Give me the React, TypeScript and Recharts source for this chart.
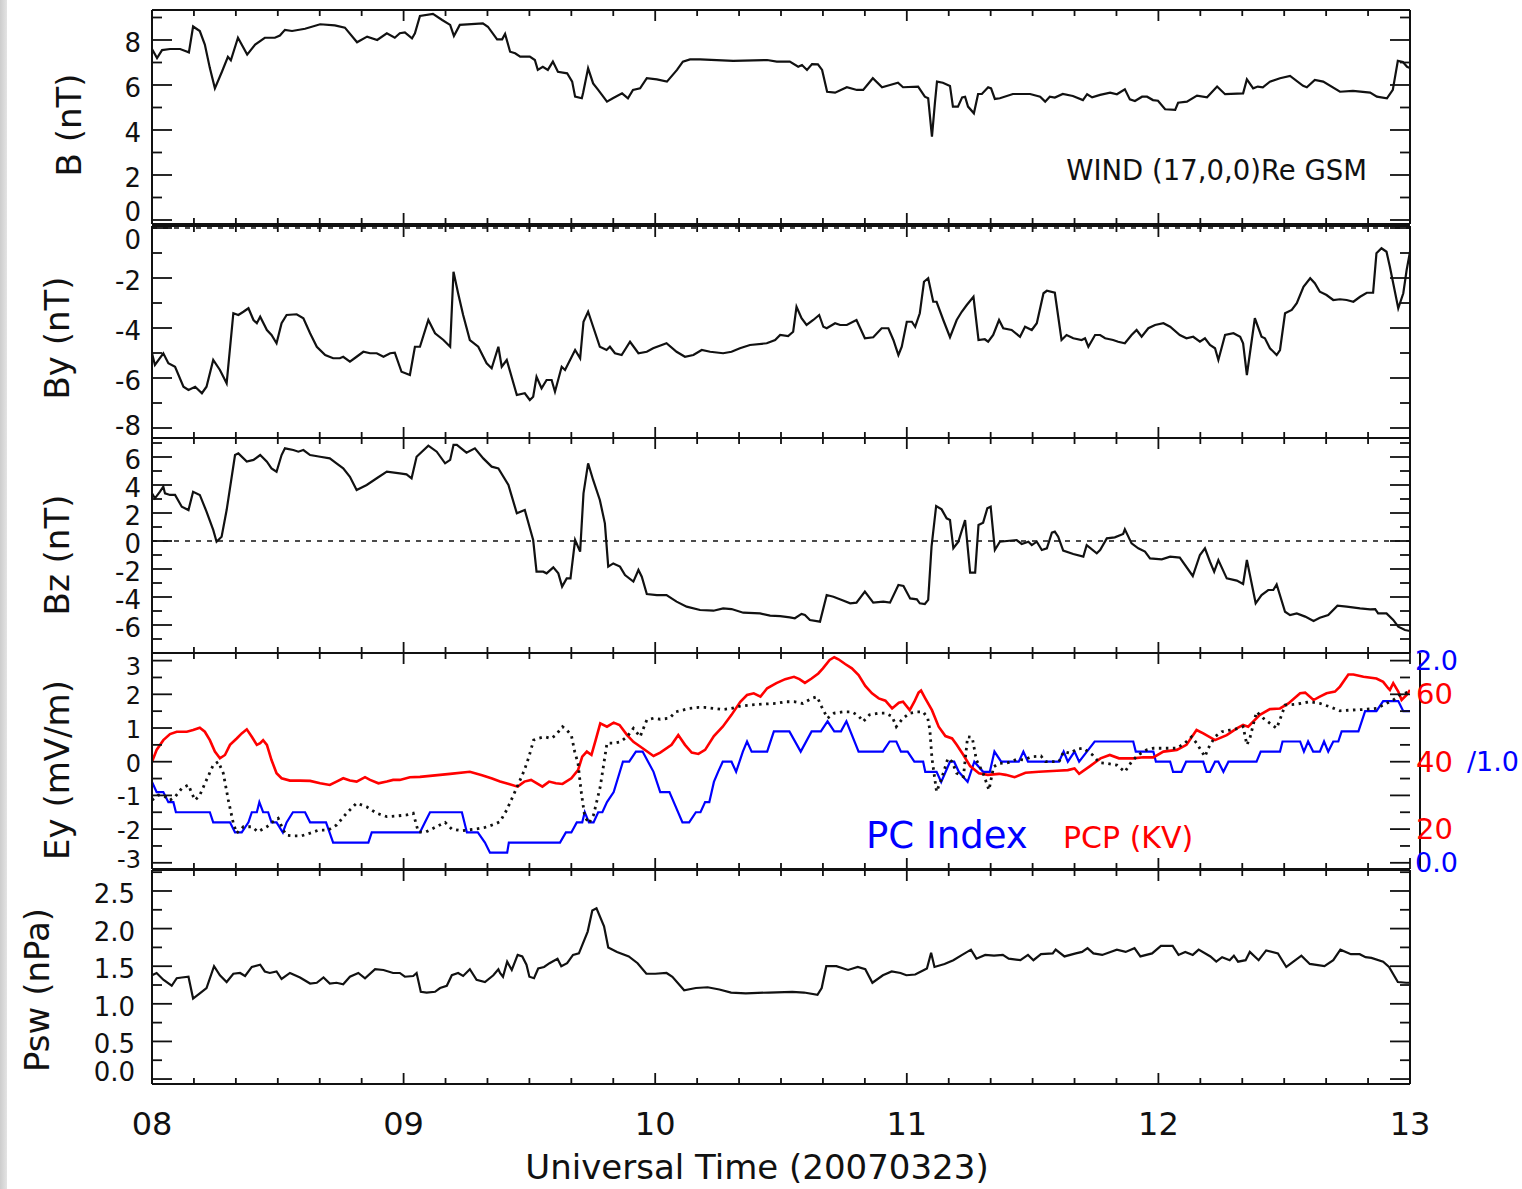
import React from 'react';
import { LineChart, Line, XAxis, YAxis, ReferenceLine } from 'recharts';

type Pt = [number, number];

// time axis: minutes after 08:00 UT
const hourLabels = ['08', '09', '10', '11', '12', '13'];
const minuteTicks = Array.from({ length: 31 }, (_, i) => i * 10);

// |B| (nT)
const bTotal: Pt[] = [
  [0, 7.6], [1.2, 7.2], [2.4, 7.55], [4.3, 7.6], [6.7, 7.6], [8.1, 7.5], [8.8, 7.45], [9.8, 8.6], [11.4, 8.4], [12.6, 7.8],
  [13.8, 6.75], [15.0, 5.85], [16.7, 6.6], [18.1, 7.25], [18.8, 7.1], [20.5, 8.1], [22.7, 7.35], [24.6, 7.8], [26.9, 8.1], [29.3, 8.1],
  [30.5, 8.2], [31.7, 8.45], [33.4, 8.4], [36.5, 8.5], [40.1, 8.7], [43.6, 8.65], [46.0, 8.55], [48.9, 7.9], [51.3, 8.15], [53.7, 8.0],
  [56.0, 8.3], [57.9, 8.1], [59.1, 8.3], [60.3, 8.34], [62.0, 8.07], [62.7, 8.3], [63.9, 9.07], [67.0, 9.16], [69.2, 8.89], [71.1, 8.67],
  [72.0, 8.18], [73.4, 8.67], [78.9, 8.74], [80.1, 8.59], [82.3, 8.03], [83.5, 8.03], [84.2, 8.27], [85.4, 7.48], [86.6, 7.41], [87.8, 7.26],
  [90.1, 7.26], [91.3, 7.11], [92.0, 6.67], [93.2, 6.81], [94.4, 6.67], [95.6, 7.04], [96.8, 6.59], [99.0, 6.52], [100.2, 6.15], [100.9, 5.48],
  [102.5, 5.41], [102.8, 5.64], [104.0, 6.74], [105.2, 6.07], [106.4, 5.78], [107.3, 5.56], [108.5, 5.26], [109.9, 5.41], [112.1, 5.63], [113.5, 5.41],
  [114.7, 5.78], [116.4, 5.85], [118.0, 6.3], [120.4, 6.25], [122.8, 6.15], [125.2, 6.67], [126.6, 7.04], [128.3, 7.14], [130.7, 7.14], [138.6, 7.07],
  [146.7, 7.11], [149.0, 7.04], [152.1, 7.04], [154.1, 6.81], [155.0, 6.89], [156.2, 6.67], [157.4, 6.93], [158.8, 6.92], [159.8, 6.67], [161.0, 5.7],
  [162.9, 5.66], [165.7, 5.9], [168.1, 5.78], [169.6, 5.78], [171.9, 6.3], [174.1, 5.9], [176.0, 6.0], [177.9, 6.1], [179.1, 5.9], [182.7, 5.93],
  [184.3, 5.48], [185.1, 5.41], [186.0, 3.7], [186.7, 5.19], [187.2, 6.15], [188.6, 6.1], [190.3, 5.96], [191.0, 5.04], [192.2, 5.04], [193.2, 5.45],
  [193.9, 5.48], [194.6, 5.04], [196.0, 4.74], [197.0, 5.6], [197.9, 5.6], [199.4, 5.9], [200.1, 5.85], [201.0, 5.38], [202.2, 5.41], [205.3, 5.6],
  [209.4, 5.6], [211.8, 5.48], [213.0, 5.26], [214.1, 5.48], [215.3, 5.44], [217.2, 5.6], [219.6, 5.51], [222.0, 5.33], [223.0, 5.59], [224.2, 5.45],
  [226.1, 5.56], [228.5, 5.66], [230.1, 5.59], [232.0, 5.81], [233.2, 5.36], [234.4, 5.29], [236.1, 5.48], [237.3, 5.48], [238.7, 5.33], [239.9, 5.3],
  [241.6, 4.92], [244.0, 4.89], [244.7, 5.21], [246.8, 5.26], [249.2, 5.53], [251.6, 5.45], [254.0, 5.93], [255.9, 5.59], [260.2, 5.63], [261.1, 6.25],
  [262.6, 5.85], [263.7, 5.93], [264.9, 5.9], [266.6, 6.15], [269.0, 6.3], [271.4, 6.4], [274.5, 5.96], [275.4, 5.9], [277.3, 6.22], [279.3, 6.15],
  [283.3, 5.7], [286.4, 5.74], [290.5, 5.66], [292.1, 5.48], [294.5, 5.41], [295.9, 5.78], [297.1, 7.07], [298.3, 7.02], [299.3, 6.81], [300, 6.75],
];

// By GSM (nT)
const byGsm: Pt[] = [
  [0, -5.01], [0.7, -5.48], [2.7, -5.01], [3.9, -5.41], [5.5, -5.55], [7.5, -6.35], [8.7, -6.48], [10.3, -6.35], [11.9, -6.61], [13.0, -6.35],
  [14.6, -5.28], [16.2, -5.68], [17.8, -6.21], [19.4, -3.41], [20.6, -3.48], [21.8, -3.35], [23.0, -3.21], [24.2, -3.68], [25.0, -3.81], [25.8, -3.55],
  [27.4, -4.08], [28.5, -4.28], [29.7, -4.61], [30.9, -3.81], [32.1, -3.48], [34.5, -3.45], [36.1, -3.61], [37.7, -4.21], [39.3, -4.75], [41.3, -5.08],
  [43.2, -5.21], [44.8, -5.21], [45.6, -5.15], [47.2, -5.35], [48.8, -5.15], [50.4, -4.95], [52.0, -5.01], [53.6, -5.01], [55.2, -5.15], [56.8, -5.01],
  [57.9, -4.99], [59.5, -5.75], [61.5, -5.88], [62.7, -4.75], [63.9, -4.75], [65.9, -3.68], [67.5, -4.21], [69.5, -4.48], [71.1, -4.75], [71.9, -1.75],
  [73.0, -2.61], [74.2, -3.48], [75.8, -4.48], [77.8, -4.75], [79.8, -5.41], [81.0, -5.61], [82.6, -4.75], [83.4, -5.55], [84.6, -5.28], [87.0, -6.68],
  [88.9, -6.61], [90.1, -6.88], [90.9, -6.75], [91.7, -5.95], [92.9, -6.41], [94.1, -6.08], [95.3, -6.08], [96.1, -6.55], [97.7, -5.55], [98.5, -5.68],
  [100.9, -4.88], [102.1, -5.21], [102.9, -3.75], [104.0, -3.35], [105.2, -3.95], [106.8, -4.75], [108.4, -4.88], [109.2, -4.75], [110.4, -5.01], [112.0, -5.08],
  [114.0, -4.55], [116.0, -5.01], [118.0, -4.95], [119.5, -4.81], [122.7, -4.61], [125.1, -4.95], [127.1, -5.15], [129.1, -5.08], [131.1, -4.88], [133.1, -4.95],
  [136.2, -5.01], [138.2, -4.95], [140.2, -4.81], [142.6, -4.68], [146.6, -4.61], [148.6, -4.48], [149.8, -4.28], [151.7, -4.32], [152.9, -4.15], [153.7, -3.15],
  [154.9, -3.61], [156.1, -3.88], [157.7, -3.68], [159.1, -3.48], [160.1, -3.95], [160.9, -4.01], [162.9, -3.81], [164.1, -3.88], [165.7, -3.88], [168.0, -3.68],
  [170.0, -4.41], [172.0, -4.37], [174.0, -4.01], [175.6, -4.01], [176.8, -4.48], [178.0, -5.08], [178.8, -4.75], [180.0, -3.75], [181.2, -3.75], [182.0, -3.95],
  [183.1, -3.41], [184.1, -2.15], [185.1, -2.01], [186.3, -2.95], [187.1, -2.95], [188.7, -3.68], [190.3, -4.37], [191.9, -3.68], [193.1, -3.35], [194.3, -3.08],
  [195.9, -2.75], [197.1, -4.48], [198.6, -4.45], [199.4, -4.55], [200.6, -4.28], [202.0, -3.68], [203.0, -4.01], [205.0, -4.08], [207.0, -4.35], [208.2, -3.95],
  [209.8, -4.08], [211.0, -3.81], [212.6, -2.61], [213.4, -2.51], [215.3, -2.59], [216.9, -4.48], [218.1, -4.28], [219.7, -4.41], [221.7, -4.48], [222.5, -4.41],
  [223.3, -4.75], [224.9, -4.28], [226.1, -4.28], [227.3, -4.41], [229.2, -4.48], [230.4, -4.55], [232.0, -4.61], [233.6, -4.28], [234.8, -4.08], [236.0, -4.35],
  [237.6, -4.01], [239.2, -3.88], [241.2, -3.81], [242.8, -3.95], [245.1, -4.28], [246.7, -4.41], [248.3, -4.35], [249.9, -4.55], [251.1, -4.41], [252.3, -4.68],
  [253.5, -4.81], [254.3, -5.28], [255.9, -4.28], [257.9, -4.21], [259.5, -4.35], [260.2, -4.61], [261.1, -5.88], [263.0, -3.61], [264.6, -4.35], [265.4, -4.41],
  [266.6, -4.81], [268.2, -5.08], [269.0, -4.88], [270.2, -3.41], [271.8, -3.28], [273.0, -3.01], [274.6, -2.35], [276.2, -2.01], [277.3, -2.21], [278.5, -2.55],
  [280.1, -2.68], [281.7, -2.88], [283.3, -2.85], [284.9, -2.88], [286.5, -2.95], [288.1, -2.75], [289.7, -2.59], [291.2, -2.59], [292.0, -1.01], [293.2, -0.81],
  [294.4, -0.95], [295.2, -1.55], [297.2, -3.21], [298.4, -2.61], [299.2, -1.68], [300, -0.95],
];

// Bz GSM (nT)
const bzGsm: Pt[] = [
  [0, 3.4], [0.7, 3.05], [1.9, 3.52], [2.7, 3.88], [3.1, 3.4], [4.3, 3.29], [5.5, 3.29], [7.1, 2.45], [8.7, 2.21], [9.8, 3.52],
  [11.4, 3.29], [13.0, 2.1], [14.6, 0.79], [15.4, -0.05], [16.6, 0.31], [17.8, 2.21], [19.8, 6.14], [20.6, 6.26], [22.6, 5.67], [24.2, 5.79],
  [25.8, 6.14], [27.4, 5.67], [28.5, 5.19], [29.7, 4.95], [30.9, 6.14], [31.7, 6.62], [33.7, 6.5], [34.9, 6.38], [36.1, 6.5], [37.7, 6.14],
  [40.1, 6.02], [42.4, 5.9], [44.0, 5.55], [45.6, 5.19], [47.2, 4.59], [48.8, 3.64], [51.2, 4.0], [53.6, 4.48], [56.0, 4.95], [59.1, 4.83],
  [60.7, 4.76], [61.9, 4.48], [63.1, 6.02], [65.9, 6.81], [67.9, 6.38], [69.9, 5.55], [71.1, 5.79], [71.9, 6.86], [72.7, 6.86], [75.0, 6.31],
  [77.0, 6.62], [79.0, 5.9], [81.0, 5.31], [82.6, 5.19], [85.0, 4.0], [87.0, 1.98], [88.9, 2.21], [90.9, 0.07], [91.7, -2.19], [93.3, -2.19],
  [94.1, -2.31], [95.7, -1.88], [96.9, -2.31], [97.8, -3.26], [98.9, -2.67], [99.8, -2.67], [100.9, 0.07], [102.1, -0.76], [102.9, 3.4], [104.0, 5.55],
  [105.2, 4.36], [106.8, 2.93], [108.0, 1.26], [108.8, -1.83], [110.0, -1.6], [111.6, -1.83], [112.8, -2.43], [114.8, -2.9], [116.0, -2.07], [116.8, -2.55],
  [118.0, -3.79], [120.4, -3.86], [122.7, -3.86], [125.1, -4.33], [127.5, -4.69], [130.7, -4.93], [133.9, -4.98], [136.2, -4.81], [138.2, -4.86], [141.0, -5.12],
  [145.0, -5.17], [147.4, -5.33], [149.8, -5.36], [152.1, -5.45], [153.3, -5.52], [154.9, -5.21], [155.7, -5.29], [156.9, -5.64], [159.3, -5.76], [160.9, -3.86],
  [162.5, -3.98], [164.5, -4.21], [166.5, -4.45], [168.0, -4.4], [170.0, -3.62], [172.0, -4.4], [174.4, -4.33], [176.0, -4.4], [178.0, -3.14], [179.2, -3.21],
  [180.8, -4.1], [182.4, -4.17], [183.1, -4.45], [184.3, -4.5], [185.1, -4.21], [185.9, -0.4], [187.0, 2.5], [188.3, 2.26], [189.5, 1.62], [190.3, 1.5],
  [191.1, -0.52], [192.3, -0.05], [193.9, 1.5], [195.1, -2.26], [196.3, -2.26], [197.1, 1.14], [198.2, 1.31], [199.2, 2.33], [200.0, 2.45], [201.0, -0.64],
  [202.2, -0.05], [206.2, 0.07], [207.4, -0.21], [209.0, -0.05], [209.8, -0.29], [211.0, -0.05], [212.2, -0.64], [213.4, -0.52], [214.6, 0.6], [215.3, 0.67],
  [216.1, 0.31], [217.3, -0.69], [219.7, -0.93], [222.1, -1.12], [222.9, -0.29], [225.3, -0.88], [226.1, -0.64], [227.7, 0.19], [229.6, 0.26], [231.6, 0.5],
  [232.0, 0.83], [233.6, -0.17], [235.2, -0.52], [236.8, -0.76], [238.0, -1.24], [240.8, -1.31], [242.8, -1.12], [245.1, -1.19], [248.2, -2.5], [249.9, -1.0],
  [251.1, -0.52], [252.3, -1.48], [253.3, -2.19], [254.3, -1.36], [256.3, -2.67], [258.7, -2.83], [260.2, -3.07], [261.1, -1.36], [263.2, -4.45], [264.6, -3.86],
  [266.2, -3.5], [267.4, -3.5], [268.2, -3.1], [270.2, -5.05], [271.4, -5.29], [273.0, -5.17], [275.0, -5.4], [277.0, -5.71], [278.5, -5.48], [280.5, -5.29],
  [282.7, -4.62], [284.9, -4.69], [288.1, -4.81], [290.5, -4.88], [291.7, -4.86], [292.4, -5.17], [294.4, -5.17], [296.0, -5.64], [297.2, -6.12], [298.8, -6.36],
  [300, -6.43],
];

// Ey (mV/m)
const eyField: Pt[] = [
  [0, -1.14], [1.5, -0.99], [3.1, -1.04], [4.3, -1.14], [5.5, -1.04], [7.1, -0.79], [8.7, -0.69], [9.5, -0.94], [10.3, -1.14], [11.4, -0.99],
  [13.0, -0.54], [14.6, -0.1], [15.8, 0.0], [17.0, -0.34], [18.2, -1.14], [19.4, -1.83], [20.2, -2.12], [21.8, -1.93], [23.8, -1.93], [25.3, -2.08],
  [27.4, -1.93], [28.9, -1.78], [30.1, -1.68], [31.3, -2.03], [32.1, -2.18], [33.7, -2.2], [35.7, -2.2], [37.7, -2.12], [39.7, -2.03], [42.0, -2.03],
  [44.0, -1.88], [46.4, -1.53], [48.8, -1.23], [51.2, -1.34], [53.6, -1.53], [56.0, -1.63], [58.4, -1.61], [60.7, -1.58], [62.3, -1.53], [63.5, -2.08],
  [65.1, -2.1], [67.5, -1.95], [69.9, -1.8], [71.5, -2.0], [73.9, -2.05], [77.0, -2.0], [79.4, -1.95], [81.8, -1.85], [83.0, -1.78], [84.6, -1.43],
  [86.2, -0.99], [87.8, -0.54], [88.8, -0.25], [89.9, 0.15], [91.0, 0.64], [92.0, 0.69], [93.6, 0.74], [95.2, 0.69], [96.3, 0.79], [97.9, 1.04],
  [98.9, 0.94], [100.0, 0.79], [100.8, 0.3], [101.6, -0.05], [102.3, -0.84], [103.2, -1.63], [104.2, -1.83], [105.3, -1.58], [106.9, -0.74], [108.5, 0.55],
  [110.1, 0.55], [111.7, 0.59], [113.3, 0.74], [114.8, 0.99], [116.4, 0.74], [118.0, 1.24], [119.6, 1.29], [121.2, 1.26], [123.4, 1.29], [124.9, 1.48],
  [126.5, 1.53], [128.1, 1.58], [130.3, 1.61], [131.9, 1.61], [134.0, 1.58], [136.1, 1.55], [138.2, 1.58], [140.3, 1.65], [142.5, 1.68], [145.7, 1.71],
  [148.9, 1.73], [151.0, 1.78], [153.1, 1.78], [155.2, 1.73], [157.3, 1.88], [158.6, 1.93], [159.7, 1.63], [161.1, 1.29], [162.7, 1.44], [164.8, 1.48],
  [166.9, 1.48], [168.5, 1.36], [169.6, 1.19], [171.1, 1.39], [173.3, 1.44], [174.9, 1.44], [176.5, 1.34], [177.5, 1.04], [179.1, 1.29], [180.7, 1.44],
  [182.3, 1.48], [183.9, 1.48], [185.0, 1.29], [185.5, 0.94], [186.0, 0.1], [187.1, -0.89], [188.2, -0.54], [189.8, 0.1], [190.8, 0.0], [191.9, -0.34],
  [193.5, -0.45], [194.5, 0.74], [195.6, 0.72], [196.6, 0.05], [198.2, -0.34], [199.6, -0.84], [200.7, -0.15], [202.0, -0.05], [204.1, -0.03], [206.2, 0.07],
  [207.8, 0.05], [209.9, 0.15], [212.0, 0.17], [213.1, 0.0], [216.3, 0.0], [217.4, 0.3], [219.0, 0.25], [220.5, 0.37], [222.1, 0.4], [224.3, 0.2],
  [225.9, -0.03], [227.7, -0.05], [230.1, -0.1], [232.0, -0.3], [233.6, 0.0], [235.2, 0.2], [237.2, 0.35], [238.8, 0.4], [244.4, 0.4], [246.3, 0.55],
  [247.9, 0.74], [249.1, 0.55], [251.1, 0.15], [251.9, 0.4], [253.5, 0.74], [255.1, 0.89], [257.1, 0.94], [259.1, 0.99], [260.2, 1.04], [261.1, 0.5],
  [261.8, 0.69], [262.6, 1.09], [263.4, 1.48], [265.0, 1.29], [266.6, 1.14], [268.2, 0.99], [269.4, 1.39], [270.2, 1.68], [273.0, 1.71], [276.1, 1.78],
  [278.5, 1.73], [280.9, 1.63], [283.3, 1.51], [285.7, 1.53], [288.9, 1.55], [292.0, 1.58], [294.4, 1.73], [296.0, 1.83], [297.6, 1.98], [299.2, 2.05],
  [300, 2.08],
];

// polar cap potential (kV)
const pcpKv: Pt[] = [
  [0, 40.0], [1.1, 43.5], [2.7, 46.4], [4.3, 48.2], [5.9, 48.9], [8.3, 48.9], [9.8, 49.4], [11.4, 50.1], [12.6, 48.9], [13.8, 46.4],
  [15.0, 43.0], [16.2, 41.0], [17.4, 42.0], [18.6, 45.0], [20.2, 46.9], [21.4, 48.4], [22.6, 49.6], [23.8, 47.4], [25.0, 45.0], [25.8, 45.5],
  [26.5, 46.4], [27.4, 45.0], [28.5, 40.5], [29.7, 36.6], [30.9, 35.1], [32.9, 34.4], [35.3, 34.4], [37.7, 34.3], [40.1, 33.6], [42.4, 33.1],
  [44.0, 34.1], [45.6, 35.1], [47.2, 34.4], [48.8, 34.1], [50.8, 35.4], [52.0, 34.6], [54.0, 33.6], [56.0, 34.1], [57.5, 34.6], [59.1, 34.6],
  [61.5, 35.4], [63.9, 35.5], [66.3, 35.8], [71.1, 36.4], [75.8, 37.0], [78.7, 36.0], [81.1, 35.0], [83.0, 34.1], [85.1, 33.4], [87.2, 32.6],
  [88.8, 34.1], [90.4, 34.6], [92.0, 33.4], [93.1, 32.6], [94.7, 34.1], [96.3, 33.6], [97.9, 33.4], [100.0, 35.1], [101.6, 37.5], [102.6, 41.5],
  [103.7, 43.0], [104.8, 42.0], [105.8, 46.4], [106.9, 51.4], [108.5, 50.4], [110.1, 51.6], [111.5, 50.9], [113.3, 47.9], [114.8, 45.9], [117.0, 44.0],
  [119.6, 41.7], [121.2, 42.7], [123.9, 45.0], [125.5, 47.9], [127.1, 45.0], [128.7, 42.7], [130.3, 42.3], [131.9, 43.5], [134.0, 47.6], [136.1, 50.4],
  [138.2, 53.9], [140.3, 57.8], [141.9, 59.8], [143.5, 60.3], [145.1, 59.3], [146.7, 61.8], [148.9, 63.3], [151.0, 64.5], [153.1, 65.2], [154.4, 64.5],
  [155.7, 63.4], [157.3, 64.7], [158.9, 66.2], [160.0, 67.7], [161.6, 70.2], [162.7, 71.0], [163.7, 70.4], [165.3, 69.0], [166.9, 67.7], [168.5, 65.7],
  [170.1, 62.5], [171.7, 60.3], [173.3, 58.8], [174.9, 58.1], [176.5, 55.8], [178.1, 57.5], [179.1, 57.8], [180.7, 55.3], [181.8, 57.8], [182.8, 60.5],
  [183.4, 61.1], [184.4, 58.8], [186.0, 55.3], [187.6, 50.4], [189.2, 47.6], [190.8, 46.9], [191.9, 45.0], [193.5, 42.0], [195.1, 38.7], [197.2, 36.6],
  [199.3, 36.1], [202.0, 36.4], [203.6, 36.1], [205.7, 35.4], [208.3, 36.7], [211.5, 37.0], [215.8, 37.3], [218.4, 37.5], [220.0, 38.0], [221.1, 36.4],
  [223.7, 38.7], [226.2, 41.0], [228.4, 42.0], [230.6, 41.0], [234.0, 41.0], [236.4, 41.3], [238.8, 41.3], [241.2, 43.0], [244.4, 43.5], [246.7, 45.0],
  [249.1, 49.4], [250.7, 48.4], [253.5, 46.4], [256.3, 47.9], [258.7, 49.9], [260.2, 50.9], [261.4, 50.4], [264.2, 53.9], [266.6, 55.6], [269.0, 55.8],
  [271.0, 57.3], [273.8, 60.3], [275.0, 60.5], [277.0, 58.3], [278.5, 59.3], [280.1, 60.3], [282.1, 60.8], [283.3, 62.3], [285.3, 65.9], [286.5, 65.9],
  [288.9, 65.2], [292.0, 64.7], [293.6, 63.7], [294.8, 61.8], [295.2, 61.3], [296.0, 63.3], [297.2, 60.8], [298.0, 58.3], [299.2, 59.8], [300, 61.3],
];

// PC index
const pcIndex: Pt[] = [
  [0, 0.8], [1.1, 0.7], [2.7, 0.7], [3.9, 0.6], [5.1, 0.6], [5.7, 0.5], [13.8, 0.5], [14.6, 0.4], [18.6, 0.4], [19.8, 0.3],
  [21.4, 0.3], [23.0, 0.4], [23.8, 0.5], [25.0, 0.5], [25.6, 0.6], [26.5, 0.5], [27.7, 0.5], [28.5, 0.4], [29.7, 0.4], [31.2, 0.3],
  [32.1, 0.4], [33.6, 0.5], [36.5, 0.5], [37.7, 0.4], [41.5, 0.4], [43.2, 0.2], [51.6, 0.2], [52.4, 0.3], [63.9, 0.3], [65.1, 0.4],
  [66.3, 0.5], [73.9, 0.5], [75.1, 0.3], [77.7, 0.3], [79.4, 0.2], [80.6, 0.1], [84.7, 0.1], [85.1, 0.2], [97.3, 0.2], [98.7, 0.3],
  [100.0, 0.3], [101.3, 0.4], [102.6, 0.4], [103.2, 0.5], [104.2, 0.4], [105.3, 0.4], [106.4, 0.5], [107.4, 0.5], [108.5, 0.6], [110.1, 0.7],
  [112.3, 1.0], [113.8, 1.0], [115.4, 1.1], [117.0, 1.1], [119.6, 0.9], [121.2, 0.7], [123.4, 0.7], [126.5, 0.4], [128.1, 0.4], [129.7, 0.5],
  [130.8, 0.5], [131.9, 0.6], [132.9, 0.6], [134.0, 0.8], [135.0, 0.9], [136.1, 1.0], [138.2, 1.0], [139.3, 0.9], [140.9, 1.1], [141.9, 1.2],
  [143.0, 1.1], [146.7, 1.1], [148.3, 1.3], [152.0, 1.3], [154.7, 1.1], [157.3, 1.3], [159.5, 1.3], [161.1, 1.4], [162.7, 1.3], [164.3, 1.3],
  [165.6, 1.4], [168.5, 1.1], [174.3, 1.1], [175.9, 1.2], [177.5, 1.2], [178.6, 1.1], [180.2, 1.1], [181.8, 1.0], [183.9, 1.0], [184.4, 0.9],
  [187.1, 0.9], [188.2, 0.8], [190.3, 1.0], [191.3, 1.0], [192.4, 0.9], [194.5, 0.8], [196.1, 1.0], [198.2, 0.9], [199.8, 0.9], [200.9, 1.1],
  [202.5, 1.0], [206.7, 1.0], [207.8, 1.1], [208.9, 1.0], [216.3, 1.0], [217.4, 1.1], [218.4, 1.0], [220.0, 1.1], [221.1, 1.0], [224.8, 1.2],
  [234.0, 1.2], [234.6, 1.1], [238.8, 1.1], [239.4, 1.0], [242.8, 1.0], [243.5, 0.9], [245.5, 0.9], [246.6, 1.0], [250.7, 1.0], [251.5, 0.9],
  [252.3, 0.9], [253.5, 1.0], [254.3, 1.0], [255.5, 0.9], [256.7, 1.0], [263.4, 1.0], [264.4, 1.1], [269.0, 1.1], [269.6, 1.2], [273.8, 1.2],
  [274.7, 1.1], [275.7, 1.2], [276.9, 1.1], [278.5, 1.1], [279.5, 1.2], [280.5, 1.1], [281.7, 1.2], [282.9, 1.2], [283.7, 1.3], [287.7, 1.3],
  [289.3, 1.5], [292.0, 1.5], [293.6, 1.6], [297.2, 1.6], [298.4, 1.5], [300, 1.5],
];

// solar wind dynamic pressure (nPa)
const pswNpa: Pt[] = [
  [0, 1.38], [1.1, 1.41], [2.7, 1.32], [4.7, 1.24], [5.9, 1.34], [7.1, 1.35], [8.7, 1.36], [9.8, 1.07], [11.4, 1.14], [13.0, 1.21],
  [14.8, 1.5], [16.2, 1.38], [17.8, 1.29], [19.4, 1.4], [21.0, 1.41], [22.2, 1.37], [23.8, 1.49], [25.8, 1.52], [26.9, 1.43], [28.1, 1.41],
  [29.7, 1.43], [30.9, 1.33], [32.9, 1.41], [35.3, 1.35], [37.7, 1.27], [39.3, 1.28], [40.9, 1.35], [42.4, 1.27], [44.0, 1.28], [45.6, 1.26],
  [47.2, 1.36], [49.2, 1.41], [50.8, 1.34], [53.2, 1.46], [55.2, 1.45], [57.5, 1.41], [59.1, 1.41], [60.3, 1.36], [62.3, 1.37], [63.1, 1.41],
  [64.1, 1.16], [65.5, 1.15], [67.5, 1.16], [68.7, 1.21], [70.3, 1.24], [71.5, 1.38], [73.0, 1.41], [74.2, 1.37], [75.8, 1.46], [77.4, 1.32],
  [79.4, 1.29], [81.4, 1.38], [82.6, 1.46], [83.0, 1.41], [83.7, 1.36], [84.7, 1.56], [85.8, 1.45], [87.2, 1.65], [88.3, 1.63], [89.3, 1.52],
  [90.0, 1.36], [91.1, 1.34], [92.1, 1.47], [93.5, 1.49], [94.8, 1.54], [96.7, 1.6], [97.6, 1.5], [99.0, 1.54], [100.4, 1.65], [101.8, 1.67],
  [103.9, 1.96], [105.0, 2.24], [106.0, 2.27], [107.8, 2.03], [108.8, 1.75], [110.9, 1.69], [113.7, 1.63], [115.8, 1.54], [117.9, 1.4], [120.0, 1.4],
  [122.7, 1.41], [124.1, 1.36], [126.9, 1.18], [129.7, 1.21], [132.5, 1.22], [135.3, 1.19], [138.1, 1.15], [141.6, 1.14], [147.1, 1.15], [152.7, 1.16],
  [155.5, 1.15], [158.7, 1.12], [159.7, 1.21], [160.8, 1.5], [163.2, 1.5], [166.0, 1.45], [168.3, 1.49], [170.1, 1.46], [171.8, 1.28], [174.3, 1.38],
  [176.4, 1.43], [178.5, 1.41], [179.9, 1.38], [182.0, 1.39], [184.1, 1.45], [184.8, 1.47], [185.8, 1.68], [186.6, 1.49], [189.0, 1.53], [191.1, 1.58],
  [193.2, 1.65], [195.3, 1.72], [196.6, 1.6], [198.7, 1.65], [200.8, 1.64], [202.9, 1.65], [204.3, 1.6], [207.1, 1.58], [208.9, 1.65], [210.2, 1.58],
  [212.0, 1.66], [214.8, 1.67], [215.5, 1.72], [217.6, 1.63], [220.3, 1.67], [221.8, 1.69], [223.1, 1.74], [224.5, 1.67], [226.6, 1.65], [230.1, 1.72],
  [232.2, 1.69], [234.3, 1.74], [235.7, 1.63], [238.5, 1.67], [240.6, 1.77], [243.4, 1.77], [244.8, 1.65], [246.4, 1.69], [248.2, 1.65], [249.6, 1.72],
  [252.4, 1.63], [253.8, 1.56], [255.2, 1.62], [257.0, 1.58], [258.0, 1.64], [259.0, 1.56], [260.8, 1.58], [261.8, 1.69], [263.9, 1.58], [265.7, 1.71],
  [268.5, 1.67], [270.5, 1.49], [274.1, 1.64], [276.1, 1.53], [279.6, 1.5], [281.7, 1.58], [283.4, 1.72], [285.9, 1.66], [288.0, 1.66], [289.4, 1.62],
  [290.8, 1.61], [293.6, 1.56], [295.0, 1.49], [297.1, 1.29], [299.1, 1.28], [300, 1.28],
];

// y tick values per panel
const bMajor = [0, 2, 4, 6, 8];
const bMinor = [1, 3, 5, 7, 9];
const byMajor = [-8, -6, -4, -2, 0];
const byMinor = [-7, -5, -3, -1];
const bzMajor = [-6, -4, -2, 0, 2, 4, 6];
const bzMinor = [-7, -5, -3, -1, 1, 3, 5, 7];
const eyMajor = [-3, -2, -1, 0, 1, 2, 3];
const eyMinor = [-2.5, -1.5, -0.5, 0.5, 1.5, 2.5];
const pcpMajor = [10, 20, 30, 40, 50, 60, 70];
const pcpMinor = [15, 25, 35, 45, 55, 65];
const pcpLabels = [20, 40, 60];
const pcLabels: Record<number, string> = { 0: '0.0', 1: '/1.0', 2: '2.0' };
const pswMajor = [0, 0.5, 1, 1.5, 2, 2.5];
const pswMinor = [0.25, 0.75, 1.25, 1.75, 2.25, 2.75];

const PAGE_W = 1522;
const PAGE_H = 1189;
const PLOT_L = 152;
const PLOT_R = 1410;
const PAD = 12;
const AXIS_W = 10; // room reserved by each y axis
const AXIS_H = 6; // room reserved by each x axis
const FONT = '"DejaVu Sans", "Open Sans", sans-serif';
const BLUE = '#0000ff';
const RED = '#ff0000';
const INK = '#111';

const rows = (pts: Pt[]) => pts.map(([t, v]) => ({ t, v }));
const has = (list: number[], v: number) => list.some((m) => Math.abs(m - v) < 1e-6);
const merge = (a: number[], b: number[]) => [...a, ...b].sort((p, q) => p - q);

interface LabelStyle {
  x: number;
  size: number;
  shift: number; // label offset below its tick
  inset: number; // how far the bottom label is pulled up from the frame
}
const defaultLabels: LabelStyle = { x: 141, size: 26, shift: 3, inset: 12 };

// inward tick marks on the left/right frame, with optional labels on the left
function yTick(side: 'left' | 'right', majors: number[], plotTop: number, plotBottom: number,
  fmt?: (v: number) => string, ls: LabelStyle = defaultLabels) {
  return (props: any) => {
    const v: number = props.payload.value;
    const y: number = props.payload.coordinate;
    const major = has(majors, v);
    const len = major ? 20 : 10;
    const x0 = side === 'left' ? PLOT_L : PLOT_R;
    const x1 = side === 'left' ? x0 + len : x0 - len;
    const ly = Math.min(Math.max(y + ls.shift, plotTop + 14), plotBottom - ls.inset);
    return (
      <g>
        <line x1={x0} y1={y} x2={x1} y2={y} stroke={INK} strokeWidth={1.8} />
        {fmt && major && (
          <text x={ls.x} y={ly} textAnchor="end" dominantBaseline="central" fontSize={ls.size}
            fontFamily={FONT} fill={INK}>{fmt(v)}</text>
        )}
      </g>
    );
  };
}

function xTick(edge: 'top' | 'bottom', y0: number, labelled: boolean) {
  return (props: any) => {
    const v: number = props.payload.value;
    const x: number = props.payload.coordinate;
    const major = v % 60 === 0;
    const len = major ? 11 : 6;
    const y1 = edge === 'top' ? y0 + len : y0 - len;
    return (
      <g>
        <line x1={x} y1={y0} x2={x} y2={y1} stroke={INK} strokeWidth={1.8} />
        {labelled && major && (
          <text x={x} y={y0 + 40} textAnchor="middle" dominantBaseline="central" fontSize={32}
            fontFamily={FONT} fill={INK}>{hourLabels[v / 60]}</text>
        )}
      </g>
    );
  };
}

// red PCP scale on the right of the Ey panel (tick marks follow the Ey grid)
function pcpTick(plotTop: number, plotBottom: number) {
  const base = yTick('right', pcpMajor, plotTop, plotBottom);
  return (props: any) => {
    const v: number = props.payload.value;
    const y: number = props.payload.coordinate;
    return (
      <g>
        {base(props)}
        {has(pcpLabels, v) && (
          <text x={1416} y={y} dominantBaseline="central" fontSize={29} fontFamily={FONT} fill={RED}>{v}</text>
        )}
      </g>
    );
  };
}

function pcTick(props: any) {
  const v: number = props.payload.value;
  const y: number = props.payload.coordinate;
  return (
    <text x={v === 1 ? 1467 : 1415} y={y} dominantBaseline="central" fontSize={27} fontFamily={FONT}
      fill={BLUE}>{pcLabels[v]}</text>
  );
}

interface PanelProps {
  top: number;
  bottom: number;
  domain: [number, number];
  majors: number[];
  minors: number[];
  fmt: (v: number) => string;
  labels?: Partial<LabelStyle>;
  title: string;
  titleX: number;
  titleY: number;
  last?: boolean;
  zeroLine?: boolean;
  rightAxes?: number; // how many right-hand y axes the panel brings itself
  children?: React.ReactNode;
}

function Panel(p: PanelProps) {
  const h = p.bottom - p.top;
  const padBottom = p.last ? PAGE_H - p.bottom : PAD;
  const chartTop = p.top - PAD;
  const plotTop = PAD;
  const plotBottom = PAD + h;
  const ticks = merge(p.majors, p.minors);
  const frame = { stroke: INK, strokeWidth: 2 };
  const ty = p.titleY - chartTop;
  const nRight = p.rightAxes ?? 1;
  const ls: LabelStyle = { ...defaultLabels, ...p.labels };
  return (
    <div style={{ position: 'absolute', left: 0, top: chartTop }}>
      <LineChart width={PAGE_W} height={h + PAD + padBottom}
        margin={{
          top: PAD - AXIS_H,
          right: PAGE_W - PLOT_R - nRight * AXIS_W,
          bottom: padBottom - AXIS_H,
          left: PLOT_L - AXIS_W,
        }}>
        <XAxis xAxisId="b" dataKey="t" type="number" domain={[0, 300]} allowDataOverflow ticks={minuteTicks}
          interval={0} height={AXIS_H} tickSize={0} tickMargin={0} tickLine={false} axisLine={frame}
          tick={xTick('bottom', plotBottom, !!p.last)} />
        <XAxis xAxisId="t" orientation="top" dataKey="t" type="number" domain={[0, 300]} allowDataOverflow
          ticks={minuteTicks} interval={0} height={AXIS_H} tickSize={0} tickMargin={0} tickLine={false}
          axisLine={frame} tick={xTick('top', plotTop, false)} />
        <YAxis yAxisId="l" type="number" domain={p.domain} allowDataOverflow ticks={ticks} interval={0}
          width={AXIS_W} tickSize={0} tickMargin={0} tickLine={false} axisLine={frame}
          tick={yTick('left', p.majors, plotTop, plotBottom, p.fmt, ls)} />
        {p.rightAxes === undefined && (
          <YAxis yAxisId="r" orientation="right" type="number" domain={p.domain} allowDataOverflow ticks={ticks}
            interval={0} width={AXIS_W} tickSize={0} tickMargin={0} tickLine={false} axisLine={frame}
            tick={yTick('right', p.majors, plotTop, plotBottom)} />
        )}
        {p.zeroLine && (
          <ReferenceLine xAxisId="b" yAxisId="l" y={0} stroke={INK} strokeWidth={1.6} strokeDasharray="5 6" />
        )}
        {p.children}
        <text x={p.titleX} y={ty} transform={`rotate(-90 ${p.titleX} ${ty})`} textAnchor="middle"
          dominantBaseline="central" fontSize={34} fontFamily={FONT} fill={INK}>{p.title}</text>
      </LineChart>
    </div>
  );
}

const intFmt = (v: number) => String(v);

export default function App() {
  // Ey panel scales: PCP = 40 + 10*Ey, PC = 1 + Ey/3
  const eyDomain: [number, number] = [-3.184, 3.226];
  const pcpDomain: [number, number] = [40 + 10 * eyDomain[0], 40 + 10 * eyDomain[1]];
  const pcDomain: [number, number] = [1 + eyDomain[0] / 3, 1 + eyDomain[1] / 3];
  const eyTop = 653;
  const eyBottom = 869;
  const eyChartTop = eyTop - PAD;

  return (
    <div style={{ position: 'absolute', left: 0, top: 0, width: PAGE_W, height: PAGE_H, background: '#fff',
      overflow: 'hidden', fontFamily: FONT }}>
      <div style={{ position: 'absolute', left: 0, top: 0, width: 7, height: PAGE_H,
        background: 'linear-gradient(90deg, #cdcdcd, #e4e4e4)' }} />

      <Panel top={10} bottom={224} domain={[-0.178, 9.333]} majors={bMajor} minors={bMinor} fmt={intFmt}
        title="B (nT)" titleX={69} titleY={125}>
        <Line xAxisId="b" yAxisId="l" data={rows(bTotal)} dataKey="v" type="linear" stroke={INK}
          strokeWidth={2.2} dot={false} isAnimationActive={false} />
        <text x={1367} y={180 - (10 - PAD)} textAnchor="end" fontSize={27.5} fontFamily={FONT}
          fill={INK}>WIND (17,0,0)Re GSM</text>
      </Panel>

      <Panel top={226} bottom={438} domain={[-8.4, 0.08]} majors={byMajor}
        minors={byMinor} fmt={intFmt} title="By (nT)" titleX={57} titleY={338} zeroLine>
        <Line xAxisId="b" yAxisId="l" data={rows(byGsm)} dataKey="v" type="linear" stroke={INK}
          strokeWidth={2.2} dot={false} isAnimationActive={false} />
      </Panel>

      <Panel top={438} bottom={653} domain={[-8.0, 7.357]} majors={bzMajor} minors={bzMinor} fmt={intFmt}
        title="Bz (nT)" titleX={57} titleY={555} zeroLine>
        <Line xAxisId="b" yAxisId="l" data={rows(bzGsm)} dataKey="v" type="linear" stroke={INK}
          strokeWidth={2.2} dot={false} isAnimationActive={false} />
      </Panel>

      <Panel top={eyTop} bottom={eyBottom} domain={eyDomain} majors={eyMajor} minors={eyMinor} fmt={intFmt}
        labels={{ size: 24, shift: 2, inset: 9 }} title="Ey (mV/m)" titleX={57} titleY={770} rightAxes={2}>
        <YAxis yAxisId="pcp" orientation="right" type="number" domain={pcpDomain} allowDataOverflow
          ticks={merge(pcpMajor, pcpMinor)} interval={0} width={AXIS_W} tickSize={0} tickMargin={0}
          tickLine={false} axisLine={{ stroke: INK, strokeWidth: 2 }} tick={pcpTick(PAD, PAD + eyBottom - eyTop)} />
        <YAxis yAxisId="pc" orientation="right" type="number" domain={pcDomain} allowDataOverflow
          ticks={[0, 1, 2]} interval={0} width={AXIS_W} tickSize={0} tickMargin={0} tickLine={false}
          axisLine={false} tick={pcTick} />
        <Line xAxisId="b" yAxisId="pc" data={rows(pcIndex)} dataKey="v" type="linear" stroke={BLUE}
          strokeWidth={2.2} dot={false} isAnimationActive={false} />
        <Line xAxisId="b" yAxisId="pcp" data={rows(pcpKv)} dataKey="v" type="linear" stroke={RED}
          strokeWidth={2.6} dot={false} isAnimationActive={false} />
        <Line xAxisId="b" yAxisId="l" data={rows(eyField)} dataKey="v" type="linear" stroke={INK}
          strokeWidth={2.8} strokeDasharray="2.5 4.5" dot={false} isAnimationActive={false} />
        <text x={866} y={848 - eyChartTop} fontSize={37} fontFamily={FONT} fill={BLUE}>PC Index</text>
        <text x={1063} y={848 - eyChartTop} fontSize={30} fontFamily={FONT} fill={RED}>PCP (KV)</text>
      </Panel>

      <Panel top={870} bottom={1084} domain={[-0.066, 2.779]} majors={pswMajor} minors={pswMinor}
        fmt={(v) => v.toFixed(1)} labels={{ x: 135 }} title="Psw (nPa)" titleX={37} titleY={990} last>
        <Line xAxisId="b" yAxisId="l" data={rows(pswNpa)} dataKey="v" type="linear" stroke={INK}
          strokeWidth={2.2} dot={false} isAnimationActive={false} />
        <text x={757} y={1167 - (870 - PAD)} textAnchor="middle" dominantBaseline="central" fontSize={34}
          fontFamily={FONT} fill={INK}>Universal Time (20070323)</text>
      </Panel>
    </div>
  );
}
